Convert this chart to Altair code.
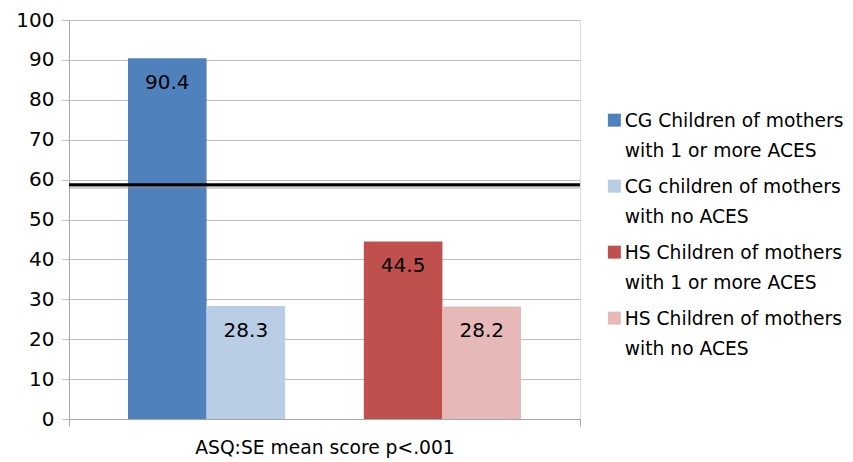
import altair as alt
import pandas as pd

category = "ASQ:SE mean score p<.001"
series = [
    "CG Children of mothers|with 1 or more ACES",
    "CG children of mothers|with no ACES",
    "HS Children of mothers|with 1 or more ACES",
    "HS Children of mothers|with no ACES",
]
values = [90.4, 28.3, 44.5, 28.2]
slots = ["CG1", "CG0", "HS1", "HS0"]
slot_order = ["CG1", "CG0", "gap", "HS1", "HS0"]
colors = ["#4F81BD", "#B9CDE5", "#C0504D", "#E6B9B8"]
threshold = [58.7]
y_ticks = list(range(0, 101, 10))

df = pd.DataFrame({"cat": category, "series": series, "value": values, "slot": slots})
df_line = pd.DataFrame({"value": threshold})

FONT = "DejaVu Sans"
GRID = "#bfbfbf"
AXIS = "#a6a6a6"

x_enc = alt.X(
    "cat:N",
    title=None,
    scale=alt.Scale(paddingInner=0, paddingOuter=0),
    axis=alt.Axis(
        labelAngle=0, tickBand="extent", ticks=True, tickSize=7, tickColor=AXIS,
        domainColor=AXIS, labelFont=FONT, labelFontSize=18.7, labelColor="#000000",
        labelPadding=12, labelLimit=0, grid=False,
    ),
)
xoff_enc = alt.XOffset(
    "slot:N", scale=alt.Scale(domain=slot_order, paddingInner=0, paddingOuter=0.75)
)
y_enc = alt.Y(
    "value:Q",
    title=None,
    scale=alt.Scale(domain=[0, 100], nice=False),
    axis=alt.Axis(
        values=y_ticks, tickCount=len(y_ticks), labelOverlap=False,
        tickSize=7, tickColor=GRID, gridColor=GRID, domainColor=AXIS,
        labelFont=FONT, labelFontSize=20, labelColor="#000000", labelPadding=8,
    ),
)

bars = alt.Chart(df).mark_bar().encode(
    x=x_enc,
    xOffset=xoff_enc,
    y=y_enc,
    color=alt.Color(
        "series:N",
        scale=alt.Scale(domain=series, range=colors),
        legend=alt.Legend(
            orient="none", legendX=536, legendY=83, title=None,
            labelExpr="split(datum.label, '|')", labelFont=FONT, labelFontSize=18.7,
            labelColor="#000000", labelLimit=0, labelBaseline="top", labelOffset=1,
            symbolType="M-1,0.2H1V2.2H-1Z", symbolSize=169, symbolStrokeWidth=0,
            symbolOpacity=1, rowPadding=7,
        ),
    ),
)

labels = alt.Chart(df).mark_text(
    dy=25, font=FONT, fontSize=20, color="#000000", baseline="middle"
).encode(x=x_enc, xOffset=xoff_enc, y=y_enc, text=alt.Text("value:Q", format=".1f"))

shadow = alt.Chart(df_line).mark_rule(
    color="#8c8c8c", strokeWidth=3, yOffset=2.5, opacity=0.45
).encode(y=alt.Y("value:Q"))
line = alt.Chart(df_line).mark_rule(color="#000000", strokeWidth=3).encode(
    y=alt.Y("value:Q")
)

chart = (
    alt.layer(bars, shadow, line, labels)
    .properties(
        width=511,
        height=399,
        autosize=alt.AutoSizeParams(type="none"),
        padding={"left": 61, "top": 12, "right": 265, "bottom": 42},
    )
    .configure_view(stroke=None)
    .configure(style={"guide-label": {"lineHeight": 30}})
)

chart.save("out.html", embed_options={"renderer": "svg", "actions": False})
